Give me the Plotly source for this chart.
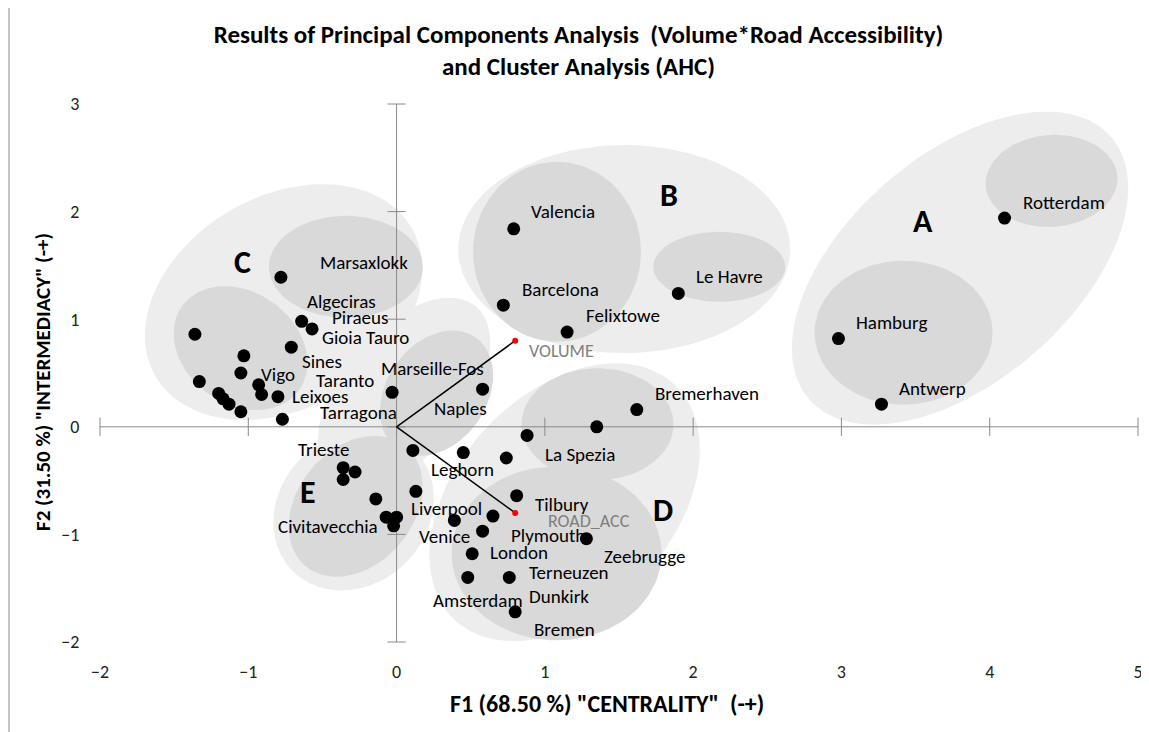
import numpy as np
import plotly.graph_objects as go

# ---------------- data ----------------
PORTS = ["Rotterdam", "Hamburg", "Antwerp",
         "Valencia", "Barcelona", "Felixtowe", "Le Havre",
         "Bremerhaven", "", "La Spezia", "", "Leghorn", "", "Liverpool", "Tilbury",
         "Dunkirk", "Venice", "Plymouth", "Zeebrugge", "London", "Amsterdam", "Terneuzen", "Bremen",
         "Marseille-Fos", "Naples",
         "Trieste", "", "", "", "Civitavecchia", "", "",
         "Marsaxlokk", "Algeciras", "Piraeus", "Gioia Tauro", "", "Sines", "", "", "Vigo",
         "Taranto", "Leixoes", "", "", "", "", "Tarragona"]
F1 = [4.10, 2.98, 3.27,
      0.79, 0.72, 1.15, 1.90,
      1.62, 1.35, 0.88, 0.74, 0.45, 0.11, 0.13, 0.81,
      0.65, 0.39, 0.58, 1.28, 0.51, 0.48, 0.76, 0.80,
      -0.03, 0.58,
      -0.36, -0.28, -0.36, -0.14, -0.07, 0.00, -0.02,
      -0.78, -0.64, -0.57, -0.71, -1.36, -1.03, -1.05, -1.33, -0.93,
      -0.91, -0.80, -1.20, -1.17, -1.13, -1.05, -0.77]
F2 = [1.94, 0.82, 0.21,
      1.84, 1.13, 0.88, 1.24,
      0.16, 0.00, -0.08, -0.29, -0.24, -0.22, -0.60, -0.64,
      -0.83, -0.87, -0.97, -1.04, -1.18, -1.40, -1.40, -1.72,
      0.32, 0.35,
      -0.38, -0.42, -0.49, -0.67, -0.84, -0.84, -0.92,
      1.39, 0.98, 0.91, 0.74, 0.86, 0.66, 0.50, 0.42, 0.39,
      0.30, 0.28, 0.31, 0.26, 0.21, 0.14, 0.07]

VARIABLES = ["VOLUME", "ROAD_ACC"]
VAR_F1 = [0.80, 0.80]
VAR_F2 = [0.80, -0.80]

CLUSTERS = ["A", "B", "C", "D", "E"]
CLUSTER_F1 = [3.55, 1.84, -1.04, 1.80, -0.60]
CLUSTER_F2 = [1.91, 2.15, 1.53, -0.78, -0.61]

X_TICKS = [-2, -1, 0, 1, 2, 3, 4, 5]
Y_TICKS = [-2, -1, 0, 1, 2, 3]

TITLE = "Results of Principal Components Analysis  (Volume*Road Accessibility)<br>and Cluster Analysis (AHC)"
X_TITLE = 'F1 (68.50 %) "CENTRALITY"  (-+)'
Y_TITLE = 'F2 (31.50 %) "INTERMEDIACY" (-+)'

# ---------------- layout / style ----------------
PAGE_OFF = 8                      # default body margin of the html page
W, H = 1149 - PAGE_OFF, 732 - PAGE_OFF
ML, MR, MT, MB = 100 - PAGE_OFF, 11, 104 - PAGE_OFF, 90
PLOT_W, PLOT_H = W - ML - MR, H - MT - MB
PXX = PLOT_W / (X_TICKS[-1] - X_TICKS[0])
PXY = PLOT_H / (Y_TICKS[-1] - Y_TICKS[0])


def paper_x(px):   # page pixel -> paper fraction
    return (px - PAGE_OFF - ML) / PLOT_W


def paper_y(py):
    return (H - MB - (py - PAGE_OFF)) / PLOT_H


FONT = "Carlito, Calibri, Lato, 'Open Sans', sans-serif"
LIGHT = "#EDEDED"
DARK = "#D9D9D9"
AXIS_GREY = "#8A8A8A"
LABEL_SIZE = 19

# ellipses: centre in data units, semi-axes in px, rotation in degrees (counter-clockwise)
ELLIPSES_OUTER = [
    (3.80, 1.475, 200, 113, 41),
    (1.535, 1.652, 166, 104, 0),
    (-0.762, 1.159, 148, 106, 30),
    (0.05, 0.32, 112, 62, 50),
    (1.133, -0.701, 161, 108, 47),
    (-0.290, -0.776, 86, 74, 45),
]
ELLIPSES_INNER = [
    (4.417, 2.285, 66, 46, 4),
    (3.419, 0.875, 89, 72, 0),
    (1.082, 1.627, 84, 90, 0),
    (2.176, 1.487, 66, 35, 0),
    (-0.342, 1.487, 77, 51, 0),
    (-1.052, 0.731, 72, 56, -36),
    (0.270, 0.313, 68, 50, 55),
    (1.355, 0.024, 76, 56, 0),
    (1.079, -1.176, 105, 87, 0),
    (-0.276, -0.739, 78, 58, 50),
]

# label offsets (px): left edge dx, vertical centre dy (screen, down positive)
LABEL_OFFSETS = {
    "Rotterdam": (16, -16), "Hamburg": (16, -16), "Antwerp": (16, -16),
    "Valencia": (15, -17), "Barcelona": (17, -16), "Felixtowe": (17, -17),
    "Le Havre": (16, -17), "Bremerhaven": (16, -16),
    "La Spezia": (16, 19), "Leghorn": (-34, 17), "Liverpool": (-7, 17),
    "Tilbury": (16, 9), "Dunkirk": (34, 80), "Venice": (-37, 16),
    "Plymouth": (26, 4), "Zeebrugge": (16, 18), "London": (16, -1),
    "Amsterdam": (-37, 23), "Terneuzen": (18, -5), "Bremen": (17, 18),
    "Marseille-Fos": (-13, -24), "Naples": (-51, 19),
    "Trieste": (-47, -18), "Civitavecchia": (-110, 9),
    "Marsaxlokk": (37, -15), "Algeciras": (3, -20), "Piraeus": (18, -11),
    "Gioia Tauro": (29, -10), "Sines": (56, 6), "Vigo": (0, -10),
    "Taranto": (52, -14), "Leixoes": (12, 0), "Tarragona": (36, -7),
}
VAR_OFFSETS = {"VOLUME": (12, 10), "ROAD_ACC": (31, 8)}


def ellipse_xy(cx, cy, a, b, ang, n=140):
    t = np.linspace(0, 2 * np.pi, n)
    phi = np.radians(ang)
    dx = a * np.cos(t) * np.cos(phi) - b * np.sin(t) * np.sin(phi)
    dy = a * np.cos(t) * np.sin(phi) + b * np.sin(t) * np.cos(phi)
    return cx + dx / PXX, cy + dy / PXY


fig = go.Figure()

for group, col in ((ELLIPSES_OUTER, LIGHT), (ELLIPSES_INNER, DARK)):
    for (cx, cy, a, b, ang) in group:
        ex, ey = ellipse_xy(cx, cy, a, b, ang)
        fig.add_trace(go.Scatter(x=ex, y=ey, mode="lines", fill="toself",
                                 fillcolor=col, line=dict(width=0, color=col),
                                 hoverinfo="skip", showlegend=False))

# axes through origin
fig.add_trace(go.Scatter(x=[X_TICKS[0], X_TICKS[-1]], y=[0, 0], mode="lines",
                         line=dict(color=AXIS_GREY, width=1), hoverinfo="skip", showlegend=False))
fig.add_trace(go.Scatter(x=[0, 0], y=[Y_TICKS[0], Y_TICKS[-1]], mode="lines",
                         line=dict(color=AXIS_GREY, width=1), hoverinfo="skip", showlegend=False))
fig.add_trace(go.Scatter(x=X_TICKS, y=[0] * len(X_TICKS), mode="markers",
                         marker=dict(symbol="line-ns", size=13, line=dict(color=AXIS_GREY, width=1)),
                         hoverinfo="skip", showlegend=False, cliponaxis=False))
fig.add_trace(go.Scatter(x=[0] * len(Y_TICKS), y=Y_TICKS, mode="markers",
                         marker=dict(symbol="line-ew", size=13, line=dict(color=AXIS_GREY, width=1)),
                         hoverinfo="skip", showlegend=False, cliponaxis=False))

# variable vectors
for vx, vy in zip(VAR_F1, VAR_F2):
    fig.add_trace(go.Scatter(x=[0, vx], y=[0, vy], mode="lines",
                             line=dict(color="black", width=1.5), hoverinfo="skip", showlegend=False))
fig.add_trace(go.Scatter(x=VAR_F1, y=VAR_F2, mode="markers",
                         marker=dict(color="#FF0000", size=6), showlegend=False, hoverinfo="skip"))

# ports
fig.add_trace(go.Scatter(x=F1, y=F2, mode="markers", text=PORTS,
                         marker=dict(color="black", size=13), showlegend=False))

annotations = []
for name, x, y in zip(PORTS, F1, F2):
    if not name:
        continue
    dx, dy = LABEL_OFFSETS[name]
    annotations.append(dict(x=x, y=y, xref="x", yref="y", text=name, showarrow=False,
                            xanchor="left", yanchor="middle", xshift=dx, yshift=-dy,
                            font=dict(family=FONT, size=LABEL_SIZE, color="black")))
for name, x, y in zip(VARIABLES, VAR_F1, VAR_F2):
    dx, dy = VAR_OFFSETS[name]
    annotations.append(dict(x=x, y=y, xref="x", yref="y", text=name, showarrow=False,
                            xanchor="left", yanchor="middle", xshift=dx, yshift=-dy,
                            font=dict(family=FONT, size=LABEL_SIZE - 1, color="#7F7F7F")))
for name, x, y in zip(CLUSTERS, CLUSTER_F1, CLUSTER_F2):
    annotations.append(dict(x=x, y=y, xref="x", yref="y", text="<b>%s</b>" % name, showarrow=False,
                            xanchor="center", yanchor="middle",
                            font=dict(family=FONT, size=32, color="black")))

# axis titles
annotations.append(dict(x=paper_x(606.5), y=paper_y(703), xref="paper", yref="paper",
                        text="<b>%s</b>" % X_TITLE, showarrow=False, xanchor="center", yanchor="middle",
                        font=dict(family=FONT, size=24, color="black")))
annotations.append(dict(x=paper_x(43), y=paper_y(382), xref="paper", yref="paper",
                        text="<b>%s</b>" % Y_TITLE, showarrow=False, xanchor="center", yanchor="middle",
                        textangle=-90, font=dict(family=FONT, size=21, color="black")))

# chart border (left edge visible in the crop)
shapes = [
    dict(type="line", xref="paper", yref="paper", x0=paper_x(9), x1=paper_x(9),
         y0=paper_y(760), y1=paper_y(0), line=dict(color="#8C8C8C", width=1)),
]

fig.update_layout(
    width=W, height=H,
    margin=dict(l=ML, r=MR, t=MT, b=MB, autoexpand=False),
    paper_bgcolor="white", plot_bgcolor="white",
    title=dict(text="<b>%s</b>" % TITLE, x=(578.5 - PAGE_OFF) / W, xref="container", xanchor="center",
               y=1 - (42.5 - PAGE_OFF) / H, yref="container", yanchor="middle",
               font=dict(family=FONT, size=25, color="black")),
    xaxis=dict(range=[X_TICKS[0], X_TICKS[-1]], tickvals=X_TICKS, showgrid=False, zeroline=False,
               showline=False, ticks="outside", ticklen=13, tickcolor="rgba(0,0,0,0)",
               tickfont=dict(family=FONT, size=18, color="#222"), automargin=False),
    yaxis=dict(range=[Y_TICKS[0], Y_TICKS[-1]], tickvals=Y_TICKS, showgrid=False, zeroline=False,
               showline=False, ticks="outside", ticklen=16, tickcolor="rgba(0,0,0,0)",
               tickfont=dict(family=FONT, size=18, color="#222"), automargin=False),
    annotations=annotations,
    shapes=shapes,
    showlegend=False,
)

fig.write_html("out.html")
